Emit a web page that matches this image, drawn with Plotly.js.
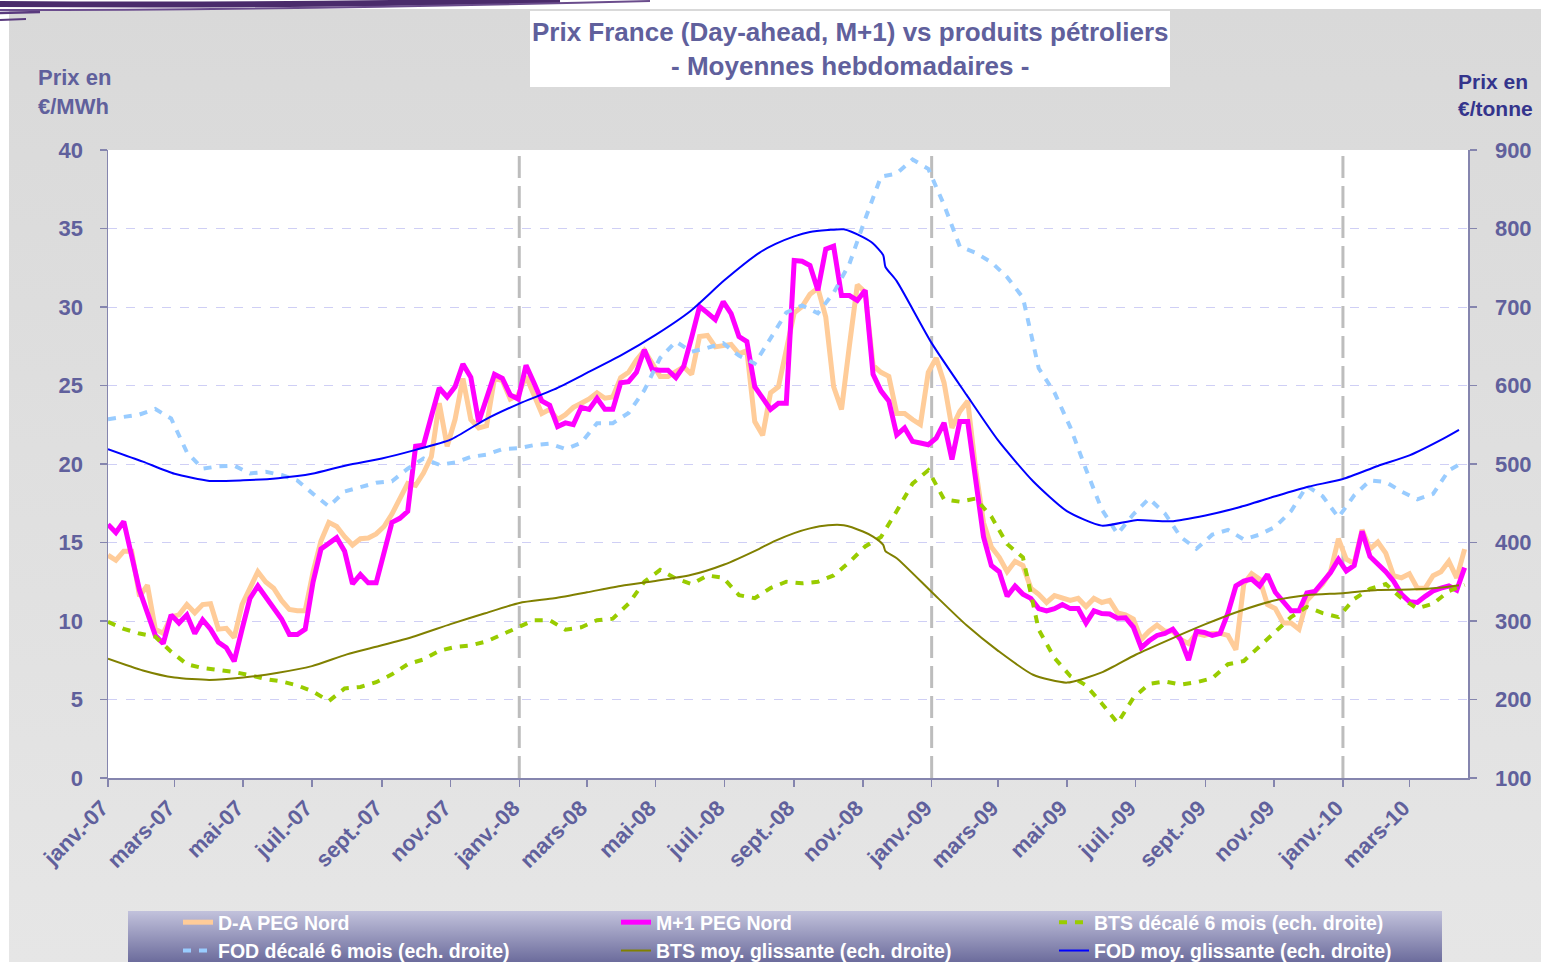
<!DOCTYPE html>
<html>
<head>
<meta charset="utf-8">
<script src="https://cdn.plot.ly/plotly-3.0.1.min.js"></script>
<style>
html,body{margin:0;padding:0;background:#ffffff;overflow:hidden}
#chart{width:1541px;height:962px}
</style>
</head>
<body>
<div id="chart"></div>
<script>
// ---- Weekly dates (weekly averages) ----
const weeks = [
'2007-01-01','2007-01-08','2007-01-15','2007-01-22','2007-01-29','2007-02-05','2007-02-12','2007-02-19','2007-02-26','2007-03-05',
'2007-03-12','2007-03-19','2007-03-26','2007-04-02','2007-04-09','2007-04-16','2007-04-23','2007-04-30','2007-05-07','2007-05-14',
'2007-05-21','2007-05-28','2007-06-04','2007-06-11','2007-06-18','2007-06-25','2007-07-02','2007-07-09','2007-07-16','2007-07-23',
'2007-07-30','2007-08-06','2007-08-13','2007-08-20','2007-08-27','2007-09-03','2007-09-10','2007-09-17','2007-09-24','2007-10-01',
'2007-10-08','2007-10-15','2007-10-22','2007-10-29','2007-11-05','2007-11-12','2007-11-19','2007-11-26','2007-12-03','2007-12-10',
'2007-12-17','2007-12-24','2007-12-31',
'2008-01-07','2008-01-14','2008-01-21','2008-01-28','2008-02-04','2008-02-11','2008-02-18','2008-02-25','2008-03-03','2008-03-10',
'2008-03-17','2008-03-24','2008-03-31','2008-04-07','2008-04-14','2008-04-21','2008-04-28','2008-05-05','2008-05-12','2008-05-19',
'2008-05-26','2008-06-02','2008-06-09','2008-06-16','2008-06-23','2008-06-30','2008-07-07','2008-07-14','2008-07-21','2008-07-28',
'2008-08-04','2008-08-11','2008-08-18','2008-08-25','2008-09-01','2008-09-08','2008-09-15','2008-09-22','2008-09-29','2008-10-06',
'2008-10-13','2008-10-20','2008-10-27','2008-11-03','2008-11-10','2008-11-17','2008-11-24','2008-12-01','2008-12-08','2008-12-15',
'2008-12-22','2008-12-29',
'2009-01-05','2009-01-12','2009-01-19','2009-01-26','2009-02-02','2009-02-09','2009-02-16','2009-02-23','2009-03-02','2009-03-09',
'2009-03-16','2009-03-23','2009-03-30','2009-04-06','2009-04-13','2009-04-20','2009-04-27','2009-05-04','2009-05-11','2009-05-18',
'2009-05-25','2009-06-01','2009-06-08','2009-06-15','2009-06-22','2009-06-29','2009-07-06','2009-07-13','2009-07-20','2009-07-27',
'2009-08-03','2009-08-10','2009-08-17','2009-08-24','2009-08-31','2009-09-07','2009-09-14','2009-09-21','2009-09-28','2009-10-05',
'2009-10-12','2009-10-19','2009-10-26','2009-11-02','2009-11-09','2009-11-16','2009-11-23','2009-11-30','2009-12-07','2009-12-14',
'2009-12-21','2009-12-28',
'2010-01-04','2010-01-11','2010-01-18','2010-01-25','2010-02-01','2010-02-08','2010-02-15','2010-02-22','2010-03-01','2010-03-08',
'2010-03-15','2010-03-22','2010-03-29','2010-04-05','2010-04-12','2010-04-19'
];

// D-A PEG Nord (€/MWh, left axis)
const daPeg = [
14.19,13.87,14.45,14.45,11.57,12.28,9.48,9.21,10.26,10.39,
11.05,10.52,11.05,11.10,9.48,9.53,8.95,11.05,12.09,13.14,
12.49,12.09,11.31,10.73,10.65,10.65,13.14,15.10,16.28,16.02,
15.37,14.84,15.24,15.29,15.55,16.02,16.81,17.85,18.77,18.64,
19.42,20.47,23.87,21.13,22.83,25.45,22.83,22.30,22.43,25.45,
25.31,24.14,24.40,25.58,24.40,23.22,23.48,22.83,
23.14,23.61,23.87,24.14,24.53,24.19,24.27,25.50,25.84,26.62,
27.23,26.36,25.58,25.58,25.92,26.18,25.71,28.12,28.19,27.46,
27.54,27.62,27.02,27.23,22.70,21.83,24.53,24.92,27.28,29.63,
30.03,30.81,31.20,29.37,24.92,23.48,27.54,31.41,30.94,26.28,
25.84,25.58,23.22,23.22,22.83,22.51,25.84,26.75,25.18,22.30,
23.35,24.01,19.69,16.28,14.71,14.06,13.14,
13.80,13.53,12.09,11.70,11.18,11.62,11.44,11.31,11.44,10.92,
11.44,11.18,11.31,10.52,10.39,10.13,8.82,9.35,9.74,9.35,
9.35,8.82,8.56,9.21,9.08,9.21,9.21,9.08,8.17,12.36,
13.01,12.67,11.05,10.79,9.87,9.87,9.48,11.31,11.83,12.36,
13.14,15.24,13.93,13.66,15.81,14.58,15.03,14.32,12.88,12.75,
13.01,12.09,12.09,12.88,13.14,13.80,12.75,14.58
];

// M+1 PEG Nord (€/MWh, left axis)
const m1Peg = [
16.15,15.63,16.34,14.19,11.96,10.52,9.08,8.56,10.39,9.87,
10.39,9.21,10.08,9.48,8.64,8.30,7.43,9.48,11.44,12.23,
11.57,10.92,10.13,9.14,9.14,9.48,12.49,14.58,14.97,15.31,
14.45,12.36,12.96,12.43,12.43,14.32,16.28,16.54,16.99,21.13,
21.20,23.04,24.84,24.27,24.92,26.36,25.52,22.67,24.14,25.71,
25.45,24.40,24.14,26.28,25.18,24.01,23.74,22.38,
22.62,22.51,23.61,23.48,24.19,23.48,23.48,25.18,25.24,25.84,
27.28,26.02,25.97,25.97,25.50,26.23,28.06,30.03,29.63,29.19,
30.34,29.58,28.12,27.80,24.92,24.14,23.48,23.87,23.87,32.96,
32.91,32.64,31.07,33.69,33.87,30.73,30.73,30.42,31.07,25.71,
24.66,24.01,21.86,22.30,21.44,21.34,21.23,21.65,22.62,20.29,
22.70,22.70,19.16,15.37,13.53,13.14,11.57,
12.23,11.70,11.44,10.79,10.65,10.79,11.05,10.79,10.79,9.87,
10.65,10.47,10.45,10.18,10.21,9.61,8.30,8.74,9.08,9.21,
9.48,8.82,7.51,9.35,9.27,9.08,9.21,10.52,12.23,12.54,
12.67,12.23,12.96,11.83,11.18,10.65,10.65,11.78,11.88,12.49,
13.09,13.93,13.19,13.53,15.71,14.11,13.66,13.14,12.54,11.70,
11.23,11.18,11.57,11.91,12.09,12.23,11.96,13.40
];

// Shifted oil products (€/tonne, right axis), read every second week
const biweeks = weeks.filter((d, i) => i % 2 === 0);

const btsShift = [
299,290,284,280,261,245,240,238,235,231,226,223,218,210,198,214,216,222,232,245,251,262,267,269,274,283,292,301,301,
289,292,301,303,322,350,365,354,347,358,355,333,329,342,350,348,350,358,375,395,407,440,475,492,455,452,456,433,398,
381,289,253,230,218,195,170,202,220,223,219,222,227,245,249,268,287,305,318,310,305,328,341,347,329,316,322,338,346
];

const fodShift = [
557,560,563,570,558,515,494,497,498,488,490,486,479,462,446,465,470,476,478,494,507,499,502,509,512,519,520,524,526,
519,527,552,552,565,594,635,656,643,648,654,638,628,660,693,702,692,718,755,812,866,870,888,876,
830,777,769,757,738,712,622,591,547,493,442,411,436,456,437,407,392,410,416,404,410,420,440,472,459,432,460,479,477,465,455,462,492,503
];

// Moving averages (€/tonne, right axis)
const maDates = [
'2007-01-01','2007-02-01','2007-03-01','2007-04-01','2007-05-01','2007-06-01','2007-07-01','2007-08-01','2007-09-01','2007-10-01','2007-11-01','2007-12-01',
'2008-01-01','2008-02-01','2008-03-01','2008-04-01','2008-05-01','2008-06-01','2008-07-01','2008-08-01','2008-08-15','2008-09-01','2008-09-15','2008-10-01','2008-10-15','2008-11-01','2008-11-10',
'2008-11-19','2008-11-21','2008-12-01',
'2009-01-01','2009-02-01','2009-03-01','2009-04-01','2009-05-01','2009-06-01','2009-07-01','2009-08-01','2009-09-01','2009-10-01','2009-11-01','2009-12-01',
'2010-01-01','2010-02-01','2010-03-01','2010-04-01','2010-04-14'
];
const fodAvg = [
519,503,487.5,478.5,479.3,482,487.5,498.5,507,518,531,556,
577,595,616,639,664.5,695,734,769,780,790,795.5,798,799,789,781,
766,751,733,
654,588,530,478,440,421.5,428.5,427,434.5,445,458.5,471,
481,497.5,511,533,543.5
];
const btsAvg = [
252,237,228,225,228,234,242.5,257.5,269,281,296,309.5,
323,329,336.5,345,351,358.5,372,392,402,412,418,422,422,414,407.5,
397,389,380,
337,294.5,262,231.5,221.5,234.5,257,277,296,312.5,326,333,
335.5,339.5,340,343,345.5
];

// Axis ticks
const tickDates = ['2007-01-01','2007-03-01','2007-05-01','2007-07-01','2007-09-01','2007-11-01',
  '2008-01-01','2008-03-01','2008-05-01','2008-07-01','2008-09-01','2008-11-01',
  '2009-01-01','2009-03-01','2009-05-01','2009-07-01','2009-09-01','2009-11-01',
  '2010-01-01','2010-03-01'];
const tickLabels = ['janv.-07','mars-07','mai-07','juil.-07','sept.-07','nov.-07',
  'janv.-08','mars-08','mai-08','juil.-08','sept.-08','nov.-08',
  'janv.-09','mars-09','mai-09','juil.-09','sept.-09','nov.-09',
  'janv.-10','mars-10'];
const yearMarks = ['2008-01-01','2009-01-01','2010-01-01'];

// ---- styling ----
const FONT = "Arial, 'Liberation Sans', sans-serif";
const TXT = '#60609c';
const AX = '#8585ae';
const PX = x => (x - 108) / 1360;
const PY = y => (778 - y) / 628;

function gradient(c0, c1) {
  const svg = '<svg xmlns="http://www.w3.org/2000/svg" width="100" height="100" preserveAspectRatio="none">' +
    '<defs><linearGradient id="g" x1="0" y1="0" x2="0" y2="1">' +
    '<stop offset="0" stop-color="' + c0 + '"/><stop offset="1" stop-color="' + c1 + '"/>' +
    '</linearGradient></defs><rect width="100" height="100" fill="url(#g)"/></svg>';
  return 'data:image/svg+xml;charset=utf-8,' + encodeURIComponent(svg);
}

const traces = [
  {x: weeks, y: daPeg, name: 'D-A PEG Nord', type: 'scatter', mode: 'lines', yaxis: 'y',
   line: {color: '#ffcc99', width: 5}},
  {x: weeks, y: m1Peg, name: 'M+1 PEG Nord', type: 'scatter', mode: 'lines', yaxis: 'y',
   line: {color: '#ff00ff', width: 5}},
  {x: biweeks, y: btsShift, name: 'BTS décalé 6 mois (ech. droite)', type: 'scatter', mode: 'lines', yaxis: 'y2',
   line: {color: '#99cc00', width: 4, dash: '8px,8px'}},
  {x: biweeks, y: fodShift, name: 'FOD décalé 6 mois (ech. droite)', type: 'scatter', mode: 'lines', yaxis: 'y2',
   line: {color: '#99ccff', width: 4, dash: '8px,8px'}},
  {x: maDates, y: btsAvg, name: 'BTS moy. glissante (ech. droite)', type: 'scatter', mode: 'lines', yaxis: 'y2',
   line: {color: '#808000', width: 2, shape: 'spline', smoothing: 0.6}},
  {x: maDates, y: fodAvg, name: 'FOD moy. glissante (ech. droite)', type: 'scatter', mode: 'lines', yaxis: 'y2',
   line: {color: '#0000ff', width: 2, shape: 'spline', smoothing: 0.6}}
];

const shapes = [
  // plot area
  {type: 'rect', xref: 'paper', yref: 'paper', x0: 0, x1: 1, y0: 0, y1: 1,
   fillcolor: '#ffffff', line: {width: 0}, layer: 'below'},
  // title box
  {type: 'rect', xref: 'paper', yref: 'paper', x0: PX(530), x1: PX(1170), y0: PY(87), y1: PY(11),
   fillcolor: '#ffffff', line: {width: 0}, layer: 'below'},
  // decorative swoosh at top-left
  {type: 'path', xref: 'paper', yref: 'paper', layer: 'above',
   path: 'M' + PX(0) + ',' + PY(4) + ' Q' + PX(300) + ',' + PY(6) + ' ' + PX(560) + ',' + PY(0),
   line: {color: '#4a2b6b', width: 6}},
  {type: 'path', xref: 'paper', yref: 'paper', layer: 'above',
   path: 'M' + PX(0) + ',' + PY(10) + ' Q' + PX(300) + ',' + PY(10) + ' ' + PX(650) + ',' + PY(1),
   line: {color: '#6a4c8c', width: 2}},
  {type: 'path', xref: 'paper', yref: 'paper', layer: 'above',
   path: 'M' + PX(0) + ',' + PY(13) + ' L' + PX(40) + ',' + PY(12),
   line: {color: '#5a3a7e', width: 2.5}},
  {type: 'path', xref: 'paper', yref: 'paper', layer: 'above',
   path: 'M' + PX(0) + ',' + PY(20) + ' L' + PX(26) + ',' + PY(19),
   line: {color: '#5a3a7e', width: 2}}
];
yearMarks.forEach(d => shapes.push({
  type: 'line', xref: 'x', yref: 'paper', x0: d, x1: d, y0: 0, y1: 1,
  line: {color: '#bdbdbd', width: 3, dash: '22px,8px'}, layer: 'below'
}));

const images = [
  {source: gradient('#d9d9d9', '#e6e6e6'), xref: 'paper', yref: 'paper',
   x: PX(9), y: PY(9), sizex: PX(1541) - PX(9), sizey: PY(9) - PY(962),
   xanchor: 'left', yanchor: 'top', sizing: 'stretch', layer: 'below'},
  {source: gradient('#c2c2dc', '#6c6c9c'), xref: 'paper', yref: 'paper',
   x: PX(128), y: PY(911), sizex: PX(1442) - PX(128), sizey: PY(911) - PY(962),
   xanchor: 'left', yanchor: 'top', sizing: 'stretch', layer: 'below'}
];

const annotations = [
  {text: 'Prix France (Day-ahead, M+1) vs produits pétroliers<br>- Moyennes hebdomadaires -',
   xref: 'paper', yref: 'paper', x: PX(850), y: PY(49), xanchor: 'center', yanchor: 'middle',
   showarrow: false, align: 'center', font: {family: FONT, size: 26, color: TXT, weight: 'bold'}},
  {text: 'Prix en<br>€/MWh', xref: 'paper', yref: 'paper', x: PX(36), y: PY(92),
   xanchor: 'left', yanchor: 'middle', showarrow: false, align: 'left',
   font: {family: FONT, size: 22, color: TXT, weight: 'bold'}},
  {text: 'Prix en<br>€/tonne', xref: 'paper', yref: 'paper', x: PX(1456), y: PY(95),
   xanchor: 'left', yanchor: 'middle', showarrow: false, align: 'left',
   font: {family: FONT, size: 21, color: '#34348c', weight: 'bold'}}
];

const tickFont = {family: FONT, size: 22, color: TXT, weight: 'bold'};

const layout = {
  width: 1541, height: 962,
  margin: {l: 108, r: 73, t: 150, b: 184, autoexpand: false},
  paper_bgcolor: '#ffffff',
  plot_bgcolor: 'rgba(0,0,0,0)',
  font: {family: FONT, color: TXT},
  hovermode: false,
  showlegend: true,
  legend: {
    orientation: 'h', x: PX(178), y: PY(903), xanchor: 'left', yanchor: 'top',
    bgcolor: 'rgba(0,0,0,0)', borderwidth: 0, entrywidth: 393, entrywidthmode: 'pixels',
    traceorder: 'normal', font: {family: FONT, size: 19.5, color: '#ffffff', weight: 'bold'}
  },
  xaxis: {
    type: 'date', range: ['2007-01-01', '2010-04-22'],
    tickmode: 'array', tickvals: tickDates, ticktext: tickLabels, tickangle: -45,
    ticks: 'outside', ticklen: 7, tickwidth: 1.5, tickcolor: AX,
    showline: true, linecolor: AX, linewidth: 1.5, showgrid: false, zeroline: false,
    ticklabelshift: -6,
    tickfont: {family: FONT, size: 22, color: TXT, weight: 'bold'}
  },
  yaxis: {
    range: [0, 40], tick0: 0, dtick: 5,
    ticks: 'outside', ticklen: 7, tickwidth: 1.5, tickcolor: AX,
    showline: true, linecolor: AX, linewidth: 1.5,
    showgrid: true, gridcolor: '#cfcff5', gridwidth: 1, griddash: 'dash', zeroline: false,
    tickfont: tickFont, ticklabelstandoff: 12
  },
  yaxis2: {
    overlaying: 'y', side: 'right', range: [100, 900], tick0: 100, dtick: 100,
    ticks: 'outside', ticklen: 7, tickwidth: 1.5, tickcolor: AX,
    showline: true, linecolor: AX, linewidth: 1.5, showgrid: false, zeroline: false,
    tickfont: tickFont, ticklabelstandoff: 14
  },
  shapes: shapes,
  images: images,
  annotations: annotations
};

Plotly.newPlot('chart', traces, layout, {staticPlot: true, displayModeBar: false});
</script>
</body>
</html>
